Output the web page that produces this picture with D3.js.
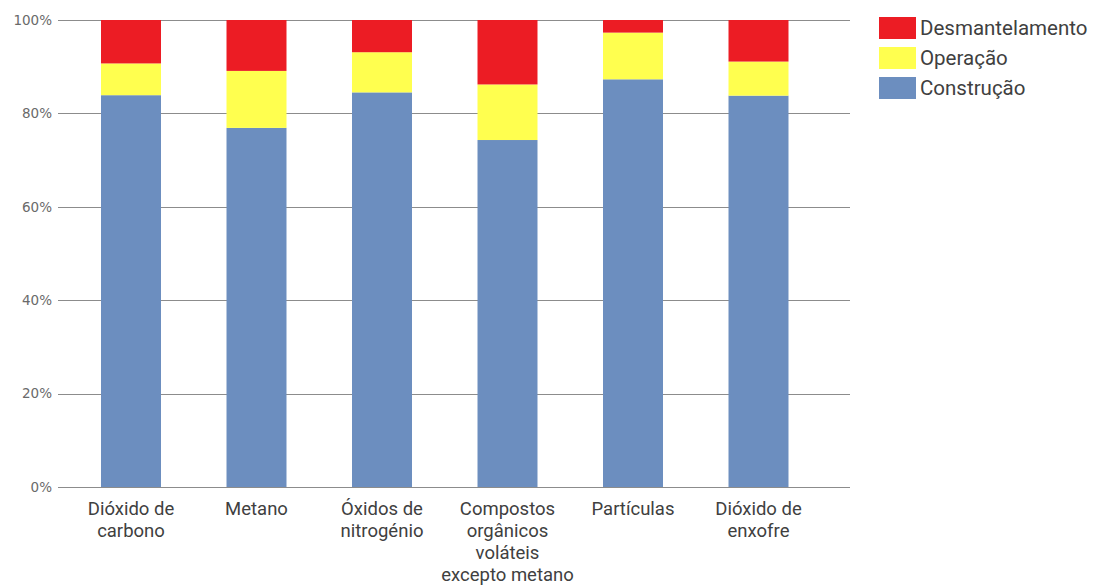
<!DOCTYPE html>
<html>
<head>
<meta charset="utf-8">
<script src="https://cdn.jsdelivr.net/npm/d3@7"></script>
<style>
  html, body { margin: 0; padding: 0; background: #ffffff; }
  svg { display: block; }
</style>
</head>
<body>
<svg id="chart" width="1109" height="586"></svg>
<script>
// ---- data ----
const categories = [
  "Dióxido de\ncarbono",
  "Metano",
  "Óxidos de\nnitrogénio",
  "Compostos\norgânicos\nvoláteis\nexcepto metano",
  "Partículas",
  "Dióxido de\nenxofre"
];
const construcao      = [83.9, 76.9, 84.5, 74.3, 87.3, 83.8];
const operacao        = [6.8, 12.2, 8.6, 11.9, 10.0, 7.3];
const desmantelamento = [9.3, 10.9, 6.9, 13.8, 2.7, 8.9];
const seriesNames = ["Construção", "Operação", "Desmantelamento"];
const legendOrder = ["Desmantelamento", "Operação", "Construção"];
const yTicks = [0, 20, 40, 60, 80, 100];

// ---- layout ----
const colors = { "Construção": "#6c8ebf", "Operação": "#ffff4f", "Desmantelamento": "#ec1c24" };
const svg = d3.select("#chart");
const gridLeft = 58, gridRight = 850;

const rows = categories.map((c, i) => ({
  cat: c,
  "Construção": construcao[i],
  "Operação": operacao[i],
  "Desmantelamento": desmantelamento[i]
}));

const y = d3.scaleLinear().domain([0, 100]).range([487, 20]);
const x = d3.scaleBand().domain(categories).range([68.25, 821.25])
  .paddingInner(0.522).paddingOuter(0.261);

// gridlines
svg.append("g").selectAll("line").data(yTicks).join("line")
  .attr("x1", gridLeft).attr("x2", gridRight)
  .attr("y1", d => Math.round(y(d)) + 0.5).attr("y2", d => Math.round(y(d)) + 0.5)
  .attr("stroke", "#8c8c8c").attr("stroke-width", 1);

// y axis labels
svg.append("g").selectAll("text").data(yTicks).join("text")
  .attr("x", 52).attr("y", d => y(d))
  .attr("dy", "0.36em")
  .attr("text-anchor", "end")
  .attr("font-family", "'DejaVu Sans', sans-serif")
  .attr("font-size", 13.5)
  .attr("fill", "#6a6a6a")
  .text(d => d + "%");

// stacked bars
const stack = d3.stack().keys(seriesNames)(rows);
svg.append("g").selectAll("g").data(stack).join("g")
  .attr("fill", s => colors[s.key])
  .selectAll("rect").data(s => s).join("rect")
  .attr("x", d => x(d.data.cat))
  .attr("width", x.bandwidth())
  .attr("y", d => y(d[1]))
  .attr("height", d => y(d[0]) - y(d[1]));

// x labels (one text per line)
const lineH = 22;
const xg = svg.append("g")
  .attr("font-family", "Roboto, sans-serif")
  .attr("font-size", 18.5)
  .attr("fill", "#404040")
  .attr("text-anchor", "middle");
categories.forEach(c => {
  c.split("\n").forEach((ln, i) => {
    xg.append("text")
      .attr("x", x(c) + x.bandwidth() / 2)
      .attr("y", 515 + i * lineH)
      .text(ln);
  });
});

// legend
const lg = svg.append("g").selectAll("g").data(legendOrder).join("g")
  .attr("transform", (d, i) => `translate(879, ${17 + i * 30})`);
lg.append("rect").attr("width", 37).attr("height", 22).attr("fill", d => colors[d]);
lg.append("text")
  .attr("x", 41).attr("y", 11).attr("dy", "0.36em")
  .attr("font-family", "Roboto, sans-serif")
  .attr("font-size", 20.5)
  .attr("fill", "#404040")
  .text(d => d);
</script>
</body>
</html>
